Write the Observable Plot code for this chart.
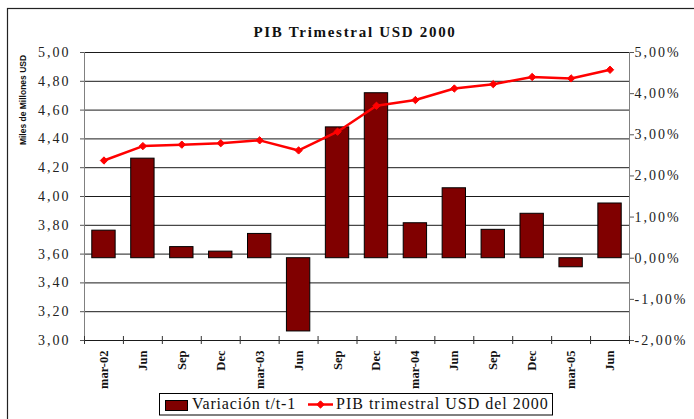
<!DOCTYPE html>
<html>
<head>
<meta charset="utf-8">
<script src="https://cdn.jsdelivr.net/npm/d3@7"></script>
<script src="https://cdn.jsdelivr.net/npm/@observablehq/plot@0.6"></script>
<style>
  html, body { margin: 0; padding: 0; background: #fff; overflow: hidden; }
  #wrap { position: relative; width: 694px; height: 419px; overflow: hidden; }
  #chart, #overlay { position: absolute; left: 0; top: 0; }
  #overlay { pointer-events: none; }
  #chart g[aria-label="y-axis tick label"] text { letter-spacing: 2px; }
</style>
</head>
<body>
<div id="wrap">
  <div id="chart"></div>
  <svg id="overlay" width="694" height="419"></svg>
</div>
<script>
// ---- data ----
const periods = ["2002-03","2002-06","2002-09","2002-12","2003-03","2003-06","2003-09","2003-12",
                 "2004-03","2004-06","2004-09","2004-12","2005-03","2005-06"];
const tickLabels = ["mar-02","Jun","Sep","Dec","mar-03","Jun","Sep","Dec",
                    "mar-04","Jun","Sep","Dec","mar-05","Jun"];
const pib = [4.25, 4.35, 4.36, 4.37, 4.39, 4.32, 4.45, 4.63, 4.67, 4.75, 4.78, 4.83, 4.82, 4.88];
const variacion = [0.67, 2.42, 0.27, 0.16, 0.59, -1.78, 3.18, 4.01, 0.85, 1.70, 0.69, 1.08, -0.22, 1.33];
const leftTicks = [3.0, 3.2, 3.4, 3.6, 3.8, 4.0, 4.2, 4.4, 4.6, 4.8, 5.0];
const rightTicks = [-2, -1, 0, 1, 2, 3, 4, 5];
const leftDomain = [3, 5];
const rightDomain = [-2, 5];
const titleText = "PIB Trimestral USD 2000";
const yLabelText = "Miles de Millones USD";
const legendBar = "Variación t/t-1";
const legendLine = "PIB trimestral USD del 2000";

// ---- helpers ----
const toLeft = p => leftDomain[0] + (p - rightDomain[0]) * (leftDomain[1] - leftDomain[0]) / (rightDomain[1] - rightDomain[0]);
const fromLeft = v => rightDomain[0] + (v - leftDomain[0]) * (rightDomain[1] - rightDomain[0]) / (leftDomain[1] - leftDomain[0]);
const comma = (v, n) => (Math.round(v * 100) / 100).toFixed(n).replace(".", ",");
const rows = periods.map((p, i) => ({period: p, label: tickLabels[i], pib: pib[i], variacion: variacion[i]}));

const W = 694, H = 419, mL = 84, mR = 65, mT = 52, mB = 79;
const step = (W - mL - mR) / periods.length;
const serif = "'Liberation Serif', 'Times New Roman', serif";

const chart = Plot.plot({
  width: W, height: H,
  marginLeft: mL, marginRight: mR, marginTop: mT, marginBottom: mB,
  style: {fontFamily: serif, color: "#000", background: "transparent", overflow: "visible"},
  x: {type: "band", domain: periods, paddingInner: 0.4, paddingOuter: 0.2, round: false, axis: null},
  y: {domain: leftDomain, axis: null},
  marks: [
    Plot.ruleY(leftTicks, {stroke: "#1a1a1a", strokeWidth: 1}),
    Plot.barY(rows, {x: "period", y1: () => toLeft(0), y2: d => toLeft(d.variacion),
                     fill: "#800000", stroke: "#000", strokeWidth: 1}),
    Plot.lineY(rows, {x: "period", y: "pib", stroke: "#ff0000", strokeWidth: 2.5}),
    Plot.dot(rows, {x: "period", y: "pib", symbol: "diamond2", fill: "#ff0000", stroke: "#ff0000", strokeWidth: 1, r: 3.3}),
    Plot.frame({anchor: "left", stroke: "#808080"}),
    Plot.frame({anchor: "right", stroke: "#808080"}),
    Plot.ruleX(periods, {y1: leftDomain[0], y2: leftDomain[0], insetTop: -4, insetBottom: -4, dx: -step / 2, stroke: "#333"}),
    Plot.ruleX([periods[periods.length - 1]], {y1: leftDomain[0], y2: leftDomain[0], insetTop: -4, insetBottom: -4, dx: step / 2, stroke: "#333"}),
    Plot.axisY(leftTicks, {anchor: "left", label: null, tickSize: 4, tickPadding: 10, stroke: "#555", fill: "#222",
                           fontSize: 14, tickFormat: d => comma(d, 2)}),
    Plot.axisY(rightTicks.map(toLeft), {anchor: "right", label: null, tickSize: 4, tickPadding: 1, stroke: "#555", fill: "#222",
                           fontSize: 14, tickFormat: v => comma(fromLeft(v), 2) + "%"}),
    Plot.axisX(periods, {label: null, tickSize: 0, tickPadding: 10, tickRotate: -90, fontSize: 12.5, fontWeight: "bold", fill: "#111",
                         tickFormat: d => tickLabels[periods.indexOf(d)]})
  ]
});
document.getElementById("chart").appendChild(chart);

// ---- overlay: border, title, y label, legend ----
const ov = d3.select("#overlay");
ov.append("rect").attr("x", 7.5).attr("y", 8.5).attr("width", 800).attr("height", 800)
  .attr("fill", "none").attr("stroke", "#222").attr("stroke-width", 1.2);
ov.append("text").attr("x", 355).attr("y", 36.7).attr("text-anchor", "middle")
  .style("font-family", serif).style("font-weight", "bold").style("font-size", "15px")
  .style("letter-spacing", "1.7px").attr("fill", "#111").text(titleText);
ov.append("text").attr("transform", "translate(26,100) rotate(-90)").attr("text-anchor", "middle")
  .style("font-family", "'Liberation Sans', Arial, sans-serif").style("font-weight", "bold")
  .style("font-size", "8.5px").attr("fill", "#111").text(yLabelText);
const lg = ov.append("g");
lg.append("rect").attr("x", 159.5).attr("y", 393.5).attr("width", 393).attr("height", 21.5)
  .attr("fill", "#fff").attr("stroke", "#000");
lg.append("rect").attr("x", 165.5).attr("y", 400.5).attr("width", 22).attr("height", 10)
  .attr("fill", "#800000").attr("stroke", "#000");
lg.append("text").attr("x", 192).attr("y", 409).style("font-family", serif).style("font-size", "16px")
  .style("letter-spacing", "0.8px").attr("fill", "#111").text(legendBar);
lg.append("line").attr("x1", 308).attr("x2", 333).attr("y1", 404.5).attr("y2", 404.5)
  .attr("stroke", "#ff0000").attr("stroke-width", 2.5);
lg.append("path").attr("transform", "translate(320.5,404.5)")
  .attr("d", d3.symbol(d3.symbolDiamond2, Math.PI * 3.3 * 3.3)())
  .attr("fill", "#ff0000").attr("stroke", "#ff0000");
lg.append("text").attr("x", 336).attr("y", 409).style("font-family", serif).style("font-size", "16px")
  .style("letter-spacing", "1px").attr("fill", "#111").text(legendLine);
</script>
</body>
</html>
